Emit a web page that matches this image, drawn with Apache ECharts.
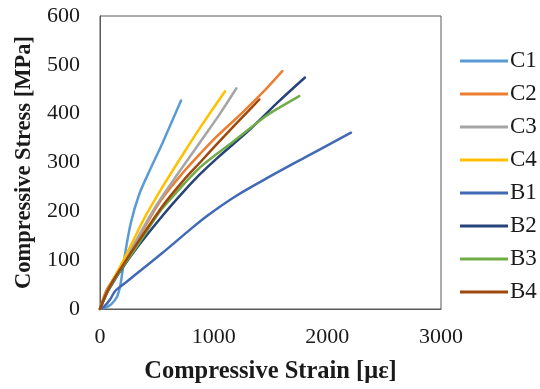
<!DOCTYPE html>
<html>
<head>
<meta charset="utf-8">
<script src="https://cdn.jsdelivr.net/npm/echarts@6/dist/echarts.min.js"></script>
<style>html,body{margin:0;padding:0;background:#fff}#c{width:540px;height:389px}</style>
</head>
<body>
<div id="c"></div>
<script>
const seriesNames = ['C1','C2','C3','C4','B1','B2','B3','B4'];
const seriesColors = ['#5B9BD5','#ED7D31','#A5A5A5','#FFC000','#4169B4','#264478','#70AD47','#9E480E'];
const xTicks = [0,1000,2000,3000];
const yTicks = [0,100,200,300,400,500,600];
const C1 = [[0,0],[50,3],[100,10],[150,25],[180,50],[215,105],[270,175],[345,235],[440,285],[550,340],[713,427]];
const C2 = [[0,0],[50,35],[120,62],[180,85],[300,130],[528,220],[733,280],[889,320],[1026,353],[1188,388],[1300,413],[1466,452],[1604,487]];
const C3 = [[0,0],[60,34],[120,60],[180,85],[280,125],[498,213],[700,282],[900,348],[1050,398],[1200,452]];
const C4 = [[0,0],[60,35],[120,62],[180,88],[260,125],[400,190],[550,250],[733,318],[900,378],[1100,446]];
const B1 = [[0,0],[40,6],[90,20],[130,36],[180,46],[300,68],[545,114],[774,159],[938,190],[1200,232],[1500,272],[1800,310],[2208,361]];
const B2 = [[0,0],[60,32],[120,56],[180,78],[300,118],[557,193],[733,240],[880,276],[1026,308],[1320,368],[1568,424],[1803,474]];
const B3 = [[0,0],[60,33],[120,58],[180,80],[300,120],[528,200],[616,224],[880,290],[1173,343],[1466,396],[1568,411],[1753,436]];
const B4 = [[0,0],[60,34],[120,60],[180,82],[300,125],[557,213],[733,263],[880,300],[1026,337],[1200,380],[1402,429]];
const seriesData = [C1,C2,C3,C4,B1,B2,B3,B4];

const font = 'Liberation Serif';
const chart = echarts.init(document.getElementById('c'), null, {renderer:'canvas'});
chart.setOption({
  animation:false,
  backgroundColor:'#fff',
  grid:{left:100,right:99,top:16,bottom:72,show:true,borderColor:'#595959',borderWidth:1,containLabel:false},
  legend:{
    orient:'vertical',left:455,top:44,
    icon:'rect',itemWidth:48,itemHeight:3,itemGap:9,
    textStyle:{fontFamily:font,fontSize:23,color:'#1a1a1a',lineHeight:24,padding:[0,0,0,-3]},
    data:seriesNames
  },
  xAxis:{
    type:'value',min:xTicks[0],max:xTicks[xTicks.length-1],interval:1000,
    name:'Compressive Strain [με]',nameLocation:'middle',nameGap:50,
    nameTextStyle:{fontFamily:font,fontSize:24.5,fontWeight:'bold',color:'#1a1a1a'},
    axisLine:{show:true,lineStyle:{color:'#595959',width:1}},
    axisTick:{show:false},splitLine:{show:false},
    axisLabel:{margin:17,fontFamily:font,fontSize:22,color:'#1a1a1a',formatter:v=>String(v)}
  },
  yAxis:{
    type:'value',min:yTicks[0],max:yTicks[yTicks.length-1],interval:100,
    name:'Compressive Stress [MPa]',nameLocation:'middle',nameGap:64,
    nameTextStyle:{fontFamily:font,fontSize:22.5,fontWeight:'bold',color:'#1a1a1a'},
    axisLine:{show:true,lineStyle:{color:'#595959',width:1}},
    axisTick:{show:false},splitLine:{show:false},
    axisLabel:{margin:20,fontFamily:font,fontSize:22,color:'#1a1a1a',formatter:v=>String(v)}
  },
  series:seriesNames.map((n,i)=>({
    name:n,type:'line',data:seriesData[i],symbol:'none',smooth:0.3,
    lineStyle:{color:seriesColors[i],width:2.5,cap:'round'},
    itemStyle:{color:seriesColors[i]}
  }))
});
</script>
</body>
</html>
